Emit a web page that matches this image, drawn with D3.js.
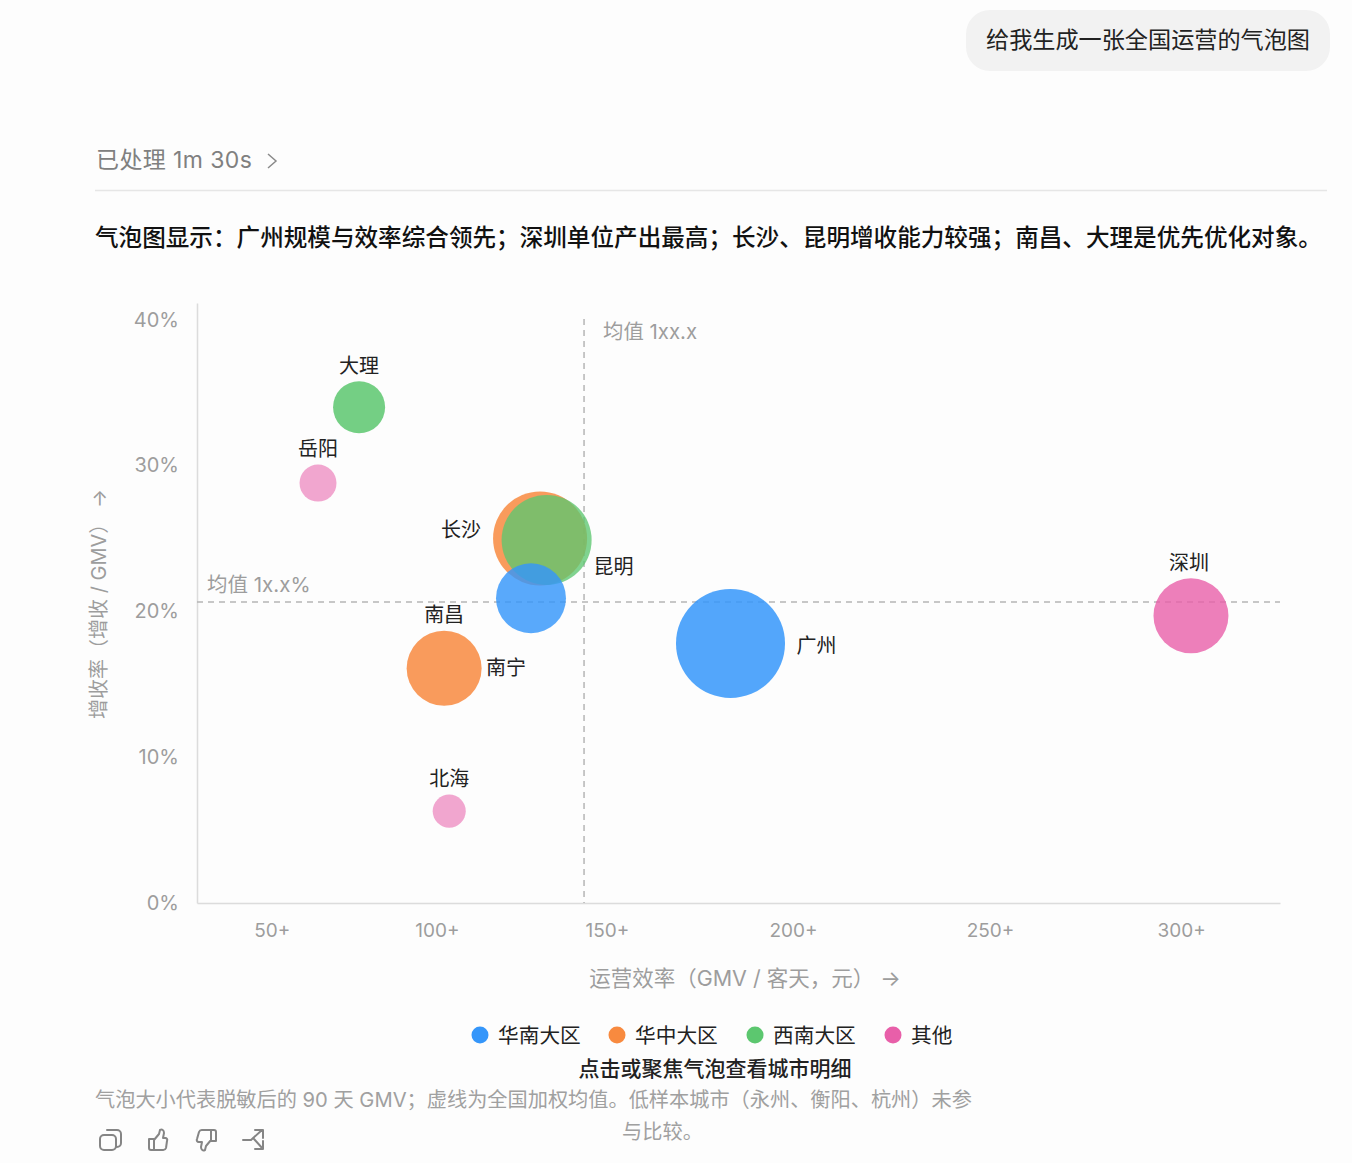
<!DOCTYPE html>
<html>
<head>
<meta charset="utf-8">
<script src="https://cdn.jsdelivr.net/npm/d3@7"></script>
<style>
html, body { margin: 0; padding: 0; background: #fdfdfd; }
svg { display: block; }
text { font-family: "Inter", "Noto Sans CJK SC", sans-serif; }
</style>
</head>
<body>
<svg id="chart" width="1352" height="1163"></svg>
<script>
// values
var cities = ["大理", "岳阳", "长沙", "昆明", "南宁", "南昌", "广州", "深圳", "北海"];
var regions = ["西南大区", "其他", "华中大区", "西南大区", "华南大区", "华中大区", "华南大区", "其他", "其他"];
var efficiency = [81.6, 70.3, 131.4, 133.2, 128.9, 105, 183.8, 310.5, 106.4];
var growth = [34.0, 28.8, 25.0, 24.9, 20.9, 16.1, 17.8, 19.7, 6.3];
var gmv = [22.8, 11.5, 74.4, 68.2, 41.2, 47.3, 100, 47.3, 9.2];

var legendNames = ["华南大区", "华中大区", "西南大区", "其他"];
var legendColors = ["#3596fa", "#f88a3f", "#5cc76f", "#e85fa9"];

var xTickValues = [57.6, 103, 149.8, 201, 255.2, 307.8];
var xTickLabels = ["50+", "100+", "150+", "200+", "250+", "300+"];
var yTickValues = [0, 10, 20, 30, 40];
var meanEfficiency = 143.5;
var meanGrowth = 20.65;

var bubbleOpacity = {"岳阳": 0.55, "北海": 0.55, "昆明": 0.78, "南宁": 0.82, "深圳": 0.8};
var labelOffset = {
    "大理": [0, -41], "岳阳": [0, -34], "长沙": [-79, -9], "昆明": [67, 27],
    "南宁": [-25, 70], "南昌": [0, -53], "广州": [86, 2], "深圳": [-2, -53], "北海": [0, -32]
};

var svg = d3.select("#chart");
var gray = "#9d9d9d";

var x = d3.scaleLinear().domain([37, 335]).range([197, 1280]);
var y = d3.scaleLinear().domain([0, 41.15]).range([903, 303]);
var r = d3.scaleSqrt().domain([0, 100]).range([0, 54.5]);
var color = d3.scaleOrdinal().domain(legendNames).range(legendColors);

// page chrome around the chart
svg.append("rect").attr("x", 966).attr("y", 10).attr("width", 364).attr("height", 61)
    .attr("rx", 24).attr("fill", "#f2f2f2");
svg.append("text").attr("x", 986).attr("y", 40).attr("dy", "0.36em")
    .attr("font-size", 23.15).attr("fill", "#222").text("给我生成一张全国运营的气泡图");
svg.append("text").attr("x", 96).attr("y", 160).attr("dy", "0.36em")
    .attr("font-size", 23).attr("letter-spacing", 0.4).attr("fill", "#808080").text("已处理 1m 30s");
svg.append("path").attr("d", "M268,154L276,161L268,168").attr("fill", "none")
    .attr("stroke", "#8a8a8a").attr("stroke-width", 1.5);
svg.append("line").attr("x1", 95).attr("x2", 1327).attr("y1", 190.5).attr("y2", 190.5)
    .attr("stroke", "#e6e6e6").attr("stroke-width", 1.5);
svg.append("text").attr("x", 95).attr("y", 238).attr("dy", "0.36em")
    .attr("font-size", 23.6).attr("font-weight", 500).attr("fill", "#111")
    .text("气泡图显示：广州规模与效率综合领先；深圳单位产出最高；长沙、昆明增收能力较强；南昌、大理是优先优化对象。");

// axes
var xAxis = svg.append("g").attr("transform", "translate(0,903)")
    .call(d3.axisBottom(x).tickValues(xTickValues).tickSize(0).tickPadding(21)
        .tickFormat(function (d, i) { return xTickLabels[i]; }));
var yAxis = svg.append("g").attr("transform", "translate(197,0)")
    .call(d3.axisLeft(y).tickValues(yTickValues).tickSize(0).tickPadding(18)
        .tickFormat(function (d) { return d + "%"; }));
svg.selectAll(".domain").attr("stroke", "#dcdcdc").attr("stroke-width", 1.5);
xAxis.selectAll("text").attr("font-size", 19).attr("fill", gray);
yAxis.selectAll("text").attr("font-size", 20).attr("fill", gray);

svg.append("text").attr("x", 745).attr("y", 978).attr("dy", "0.36em").attr("text-anchor", "middle")
    .attr("font-size", 21.5).attr("fill", gray).text("运营效率（GMV / 客天，元） →");
svg.append("text").attr("transform", "translate(99,604) rotate(-90)").attr("dy", "0.36em")
    .attr("text-anchor", "middle").attr("font-size", 20).attr("fill", gray)
    .text("增收率（增收 / GMV） →");

// mean lines
svg.append("line").attr("x1", x(meanEfficiency)).attr("x2", x(meanEfficiency))
    .attr("y1", 319).attr("y2", y(0))
    .attr("stroke", "#b5b5b5").attr("stroke-width", 1.5).attr("stroke-dasharray", "6 5");
svg.append("line").attr("x1", x.range()[0]).attr("x2", x.range()[1])
    .attr("y1", y(meanGrowth)).attr("y2", y(meanGrowth))
    .attr("stroke", "#b5b5b5").attr("stroke-width", 1.5).attr("stroke-dasharray", "6 5");
svg.append("text").attr("x", 603).attr("y", 332).attr("dy", "0.36em")
    .attr("font-size", 20.4).attr("fill", gray).text("均值 1xx.x");
svg.append("text").attr("x", 207).attr("y", 585).attr("dy", "0.36em")
    .attr("font-size", 20.5).attr("fill", gray).text("均值 1x.x%");

// bubbles
svg.append("g").selectAll("circle")
    .data(cities)
    .enter().append("circle")
    .attr("cx", function (d, i) { return x(efficiency[i]); })
    .attr("cy", function (d, i) { return y(growth[i]); })
    .attr("r", function (d, i) { return r(gmv[i]); })
    .attr("fill", function (d, i) { return color(regions[i]); })
    .attr("fill-opacity", function (d) { return bubbleOpacity[d] || 0.85; });

svg.append("g").selectAll("text")
    .data(cities)
    .enter().append("text")
    .attr("x", function (d, i) { return x(efficiency[i]) + labelOffset[d][0]; })
    .attr("y", function (d, i) { return y(growth[i]) + labelOffset[d][1]; })
    .attr("dy", "0.36em").attr("text-anchor", "middle")
    .attr("font-size", 20).attr("fill", "#222")
    .text(function (d) { return d; });

// legend
var legendDot = [480, 617, 755, 893];
var legend = svg.append("g").selectAll("g")
    .data(legendNames)
    .enter().append("g")
    .attr("transform", function (d, i) { return "translate(" + legendDot[i] + ",1036)"; });
legend.append("circle").attr("r", 8.5).attr("cy", -1).attr("fill", function (d) { return color(d); });
legend.append("text").attr("x", 18).attr("dy", "0.36em").attr("font-size", 20.7).attr("fill", "#222")
    .text(function (d) { return d; });

svg.append("text").attr("x", 715).attr("y", 1068).attr("dy", "0.36em").attr("text-anchor", "middle")
    .attr("font-size", 21).attr("font-weight", 500).attr("fill", "#222").text("点击或聚焦气泡查看城市明细");
svg.append("text").attr("x", 95).attr("y", 1100).attr("dy", "0.36em")
    .attr("font-size", 20.2).attr("fill", "#a0a0a0")
    .text("气泡大小代表脱敏后的 90 天 GMV；虚线为全国加权均值。低样本城市（永州、衡阳、杭州）未参");
svg.append("text").attr("x", 662.5).attr("y", 1132).attr("dy", "0.36em").attr("text-anchor", "middle")
    .attr("font-size", 20.2).attr("fill", "#a0a0a0").text("与比较。");

// action icons
var icons = [
    "M107,1130h10a4,4 0 0 1 4,4v9a4,4 0 0 1 -4,4M104,1135h8a4,4 0 0 1 4,4v7a4,4 0 0 1 -4,4h-8a4,4 0 0 1 -4,-4v-7a4,4 0 0 1 4,-4z",
    "M149,1139h5v11h-3a2,2 0 0 1 -2,-2zM154,1140l5,-6l1,-4c2,-1 4,0 4,3l-1,5h2a2,2 0 0 1 2,3l-1,7a3,3 0 0 1 -3,2h-9",
    "M216,1141h-5v-11h3a2,2 0 0 1 2,2zM211,1140l-5,6l-1,4c-2,1 -4,0 -4,-3l1,-5h-3a2,2 0 0 1 -2,-3l2,-7a3,3 0 0 1 3,-2h9",
    "M243,1140h8l11,-10M255,1130h8v8M254,1139l9,10M255,1149h8v-8"
];
svg.append("g").selectAll("path")
    .data(icons)
    .enter().append("path")
    .attr("d", function (d) { return d; })
    .attr("fill", "none").attr("stroke", "#858585").attr("stroke-width", 2)
    .attr("stroke-linejoin", "round").attr("stroke-linecap", "round");
</script>
</body>
</html>
